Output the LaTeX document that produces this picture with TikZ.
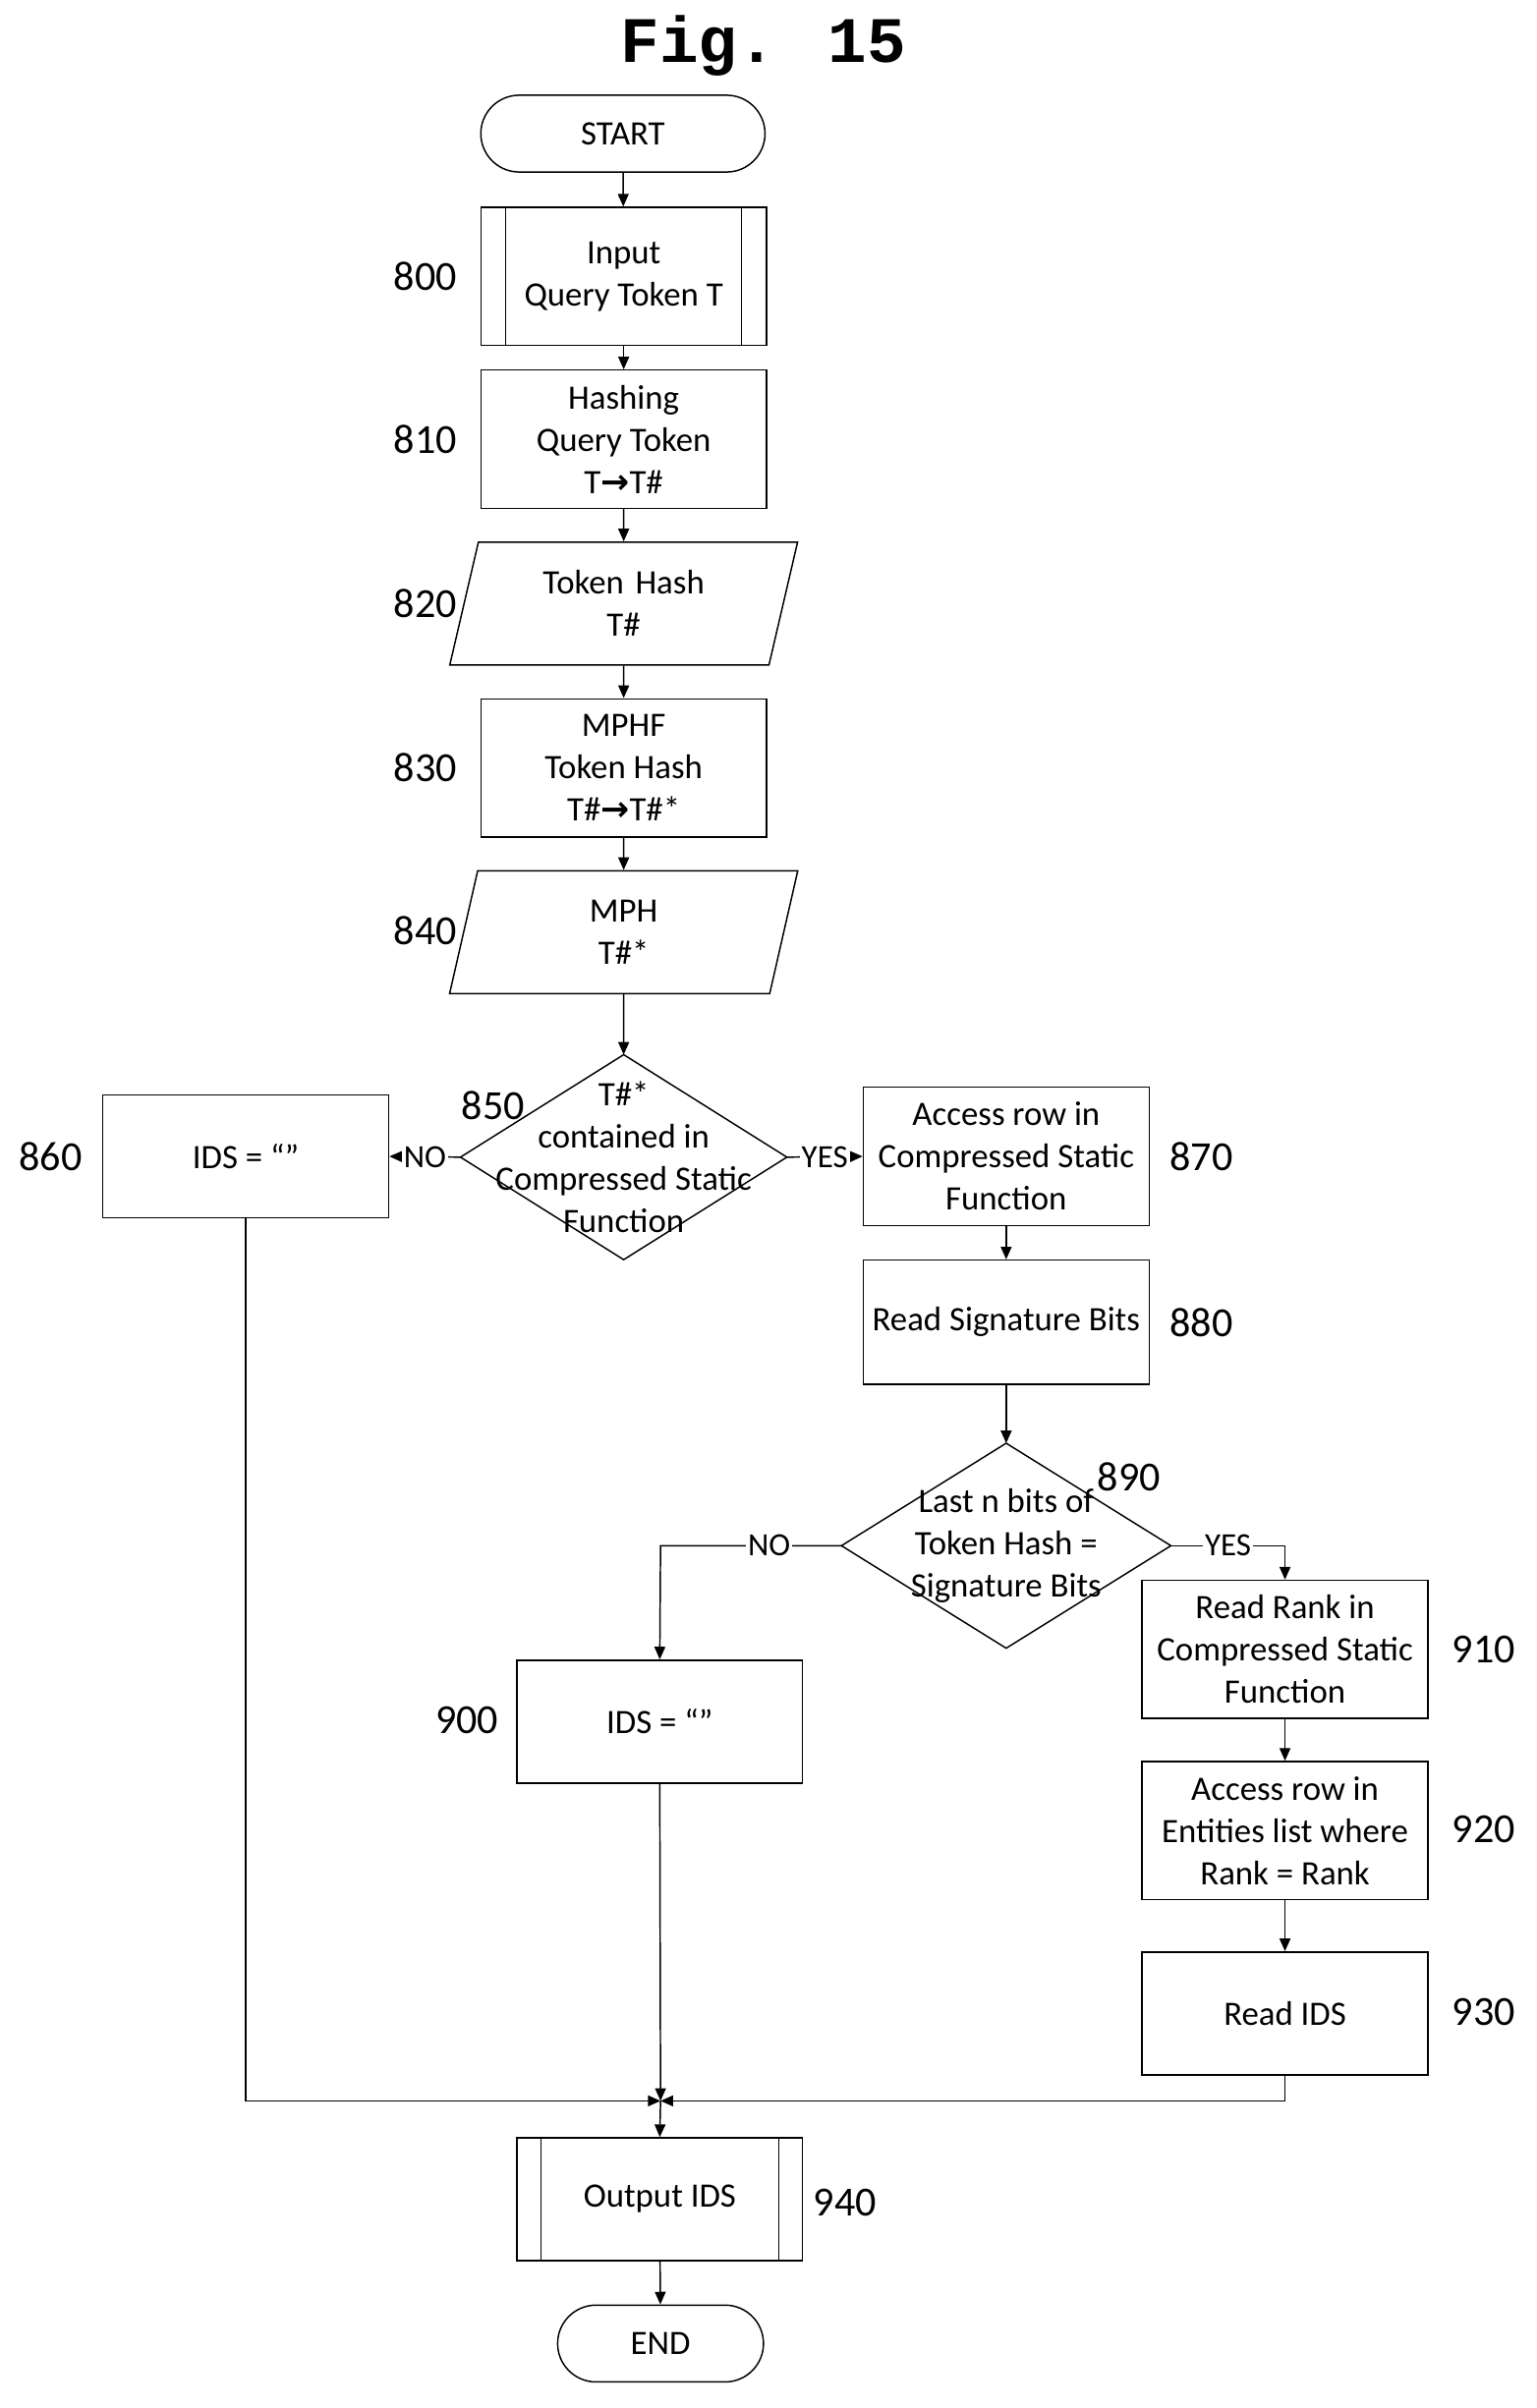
\documentclass[tikz,border=0pt]{standalone}
\usepackage{fontspec}
\setmainfont{Carlito}
\newfontfamily\monob{Liberation Mono}
\newfontfamily\djv{DejaVu Sans}
\usetikzlibrary{shapes.geometric,arrows.meta}
\newcommand{\arr}{{\djv\bfseries→}}
\begin{document}
\begin{tikzpicture}[x=0.03cm,y=-0.03cm,
  box/.style={draw,line width=0.8pt,minimum width=5.58cm,minimum height=2.7cm,align=center,font=\fontsize{19}{23.5}\selectfont},
  term/.style={draw,line width=0.8pt,rounded corners=0.75cm,minimum width=5.55cm,minimum height=1.5cm,font=\fontsize{19}{23.5}\selectfont},
  para/.style={draw,line width=0.8pt,trapezium,trapezium left angle=73,trapezium right angle=107,minimum width=6.8cm,minimum height=2.4cm,align=center,trapezium stretches=true,text width=4.5cm,font=\fontsize{19}{23.5}\selectfont},
  dia/.style={inner sep=0pt,align=center,font=\fontsize{19}{23.5}\selectfont},
  num/.style={font=\fontsize{23}{27}\selectfont},
  lab/.style={fill=white,inner sep=1pt,font=\fontsize{18}{22}\selectfont},
  ar/.style={line width=0.8pt,-{Triangle[length=7pt,width=6pt]}},
  ln/.style={line width=0.8pt}]
\useasboundingbox (0,0) rectangle (1000,1568);
\node[font=\monob\bfseries\fontsize{36}{40}\selectfont] (title) at (497,30) {Fig. 15};
\node[term] (start) at (405.5,87) {START};
\node[box] (n800) at (406,180) {Input\\Query Token T};
\draw[ln] ([xshift=0.5cm]n800.north west) -- ([xshift=0.5cm]n800.south west)
          ([xshift=-0.5cm]n800.north east) -- ([xshift=-0.5cm]n800.south east);
\node[box] (n810) at (406,286) {Hashing\\Query Token\\T\arr T\#};
\node[para] (n820) at (406,393) {Token Hash\\T\#};
\node[box] (n830) at (406,500) {MPHF\\Token Hash\\T\#\arr T\#*};
\node[para] (n840) at (406,607) {MPH\\T\#*};
\node[dia,minimum width=6.36cm,minimum height=3.99cm] (n850) at (406,753.5) {T\#*\\contained in\\Compressed Static\\Function};
\draw[ln] (n850.north) -- (n850.east) -- (n850.south) -- (n850.west) -- cycle;
\node[box,minimum height=2.4cm] (n860) at (160,753) {IDS = “”};
\node[box] (n870) at (655,753) {Access row in\\Compressed Static\\Function};
\node[box,minimum height=2.43cm] (n880) at (655,861) {Read Signature Bits};
\node[dia,minimum width=6.42cm,minimum height=3.99cm] (n890) at (655,1006.5) {Last n bits of\\Token Hash =\\Signature Bits};
\draw[ln] (n890.north) -- (n890.east) -- (n890.south) -- (n890.west) -- cycle;
\node[box] (n910) at (836.5,1074) {Read Rank in\\Compressed Static\\Function};
\node[box] (n920) at (836.5,1192) {Access row in\\Entities list where\\Rank = Rank};
\node[box,minimum height=2.4cm] (n930) at (836.5,1311) {Read IDS};
\node[box,minimum height=2.4cm] (n900) at (429.5,1121) {IDS = “”};
\coordinate (j) at (430,1368);
\node[box,minimum height=2.4cm] (n940) at (429.5,1432) {Output IDS};
\draw[ln] ([xshift=0.48cm]n940.north west) -- ([xshift=0.48cm]n940.south west)
          ([xshift=-0.48cm]n940.north east) -- ([xshift=-0.48cm]n940.south east);
\node[term,minimum width=4.02cm] (end) at (430,1526) {END};
% numbers
\node[num] at (277,180) {800};
\node[num] at (277,286) {810};
\node[num] at (277,393) {820};
\node[num] at (277,500) {830};
\node[num] at (277,606) {840};
\node[num] at (321,720) {850};
\node[num] at (33,753) {860};
\node[num] at (782,753) {870};
\node[num] at (782,861) {880};
\node[num] at (735,962) {890};
\node[num] at (304,1120) {900};
\node[num] at (966,1074) {910};
\node[num] at (966,1191) {920};
\node[num] at (966,1310) {930};
\node[num] at (550,1434) {940};
% connectors
\draw[ar] (start) -- (n800);
\draw[ar] (n800) -- (n810);
\draw[ar] (n810) -- (n820);
\draw[ar] (n820) -- (n830);
\draw[ar] (n830) -- (n840);
\draw[ar] (n840) -- (n850.north);
\draw[ar] (n850.west) -- node[lab]{NO} (n860.east);
\draw[ar] (n850.east) -- node[lab]{YES} (n870.west);
\draw[ar] (n870) -- (n880);
\draw[ar] (n880) -- (n890.north);
\draw[ar] (n890.west) -- node[lab,pos=0.4]{NO} (430,1006.5) -- (n900.north);
\draw[ar] (n890.east) -- node[lab,pos=0.5]{YES} (836.5,1006.5) -- (n910.north);
\draw[ar] (n910) -- (n920);
\draw[ar] (n920) -- (n930);
\draw[ar] (n930.south) |- (j);
\draw[ar] (n860.south) |- (j);
\draw[ar] (n900.south) -- (j);
\draw[ar] (j) -- (n940.north);
\draw[ar] (n940) -- (end);
\end{tikzpicture}
\end{document}
